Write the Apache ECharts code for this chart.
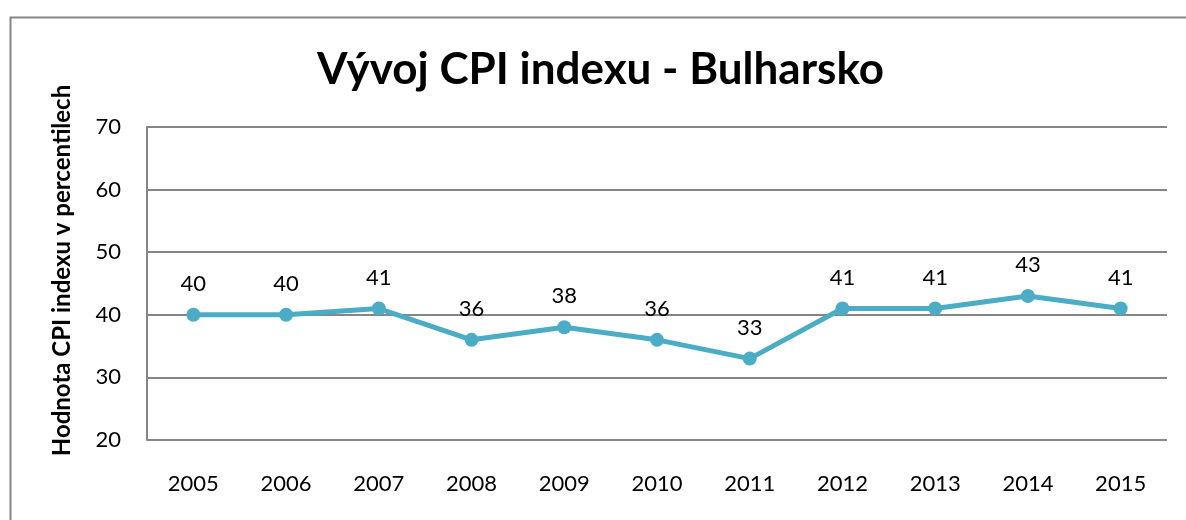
<!DOCTYPE html>
<html>
<head>
<meta charset="utf-8">
<script src="https://cdn.jsdelivr.net/npm/echarts@6/dist/echarts.min.js"></script>
<style>
  html, body { margin: 0; padding: 0; background: #fff; }
  #chart { width: 1186px; height: 520px; }
</style>
</head>
<body>
<div id="chart"></div>
<script>
// data
const years = ['2005', '2006', '2007', '2008', '2009', '2010', '2011', '2012', '2013', '2014', '2015']
const cpiValues = [40, 40, 41, 36, 38, 36, 33, 41, 41, 43, 41]
const chartTitle = 'Vývoj CPI indexu - Bulharsko'
const yAxisTitle = 'Hodnota CPI indexu v percentilech'

const chart = echarts.init(document.getElementById('chart'))
const font = 'Lato, "Open Sans", sans-serif'

chart.setOption({
  animation: false,
  textStyle: { fontFamily: font },
  // outer frame of the chart area, cut off at right and bottom
  graphic: [{
    type: 'rect',
    left: 8, top: 15,
    shape: { width: 1200, height: 520 },
    style: { fill: 'none', stroke: '#868686', lineWidth: 2 },
    silent: true
  }],
  title: {
    text: chartTitle,
    left: 312,
    top: 43,
    textStyle: { fontFamily: font, fontSize: 44, fontWeight: 'bold', color: '#000' }
  },
  grid: { left: 147, right: 19, top: 127, bottom: 80 },
  xAxis: {
    type: 'category',
    data: years,
    boundaryGap: true,
    axisLine: { show: false },
    axisTick: { show: false },
    axisLabel: { color: '#000', fontSize: 22, fontFamily: font, margin: 33 }
  },
  yAxis: {
    type: 'value',
    min: 20, max: 70, interval: 10,
    name: yAxisTitle,
    nameLocation: 'middle',
    nameGap: 73,
    nameRotate: 90,
    nameTextStyle: { color: '#000', fontSize: 24, fontWeight: 'bold', fontFamily: font, padding: [0, 0, 0, 26] },
    axisLine: { show: true, lineStyle: { color: '#868686', width: 2 } },
    axisTick: { show: false },
    axisLabel: { color: '#000', fontSize: 22, fontFamily: font, margin: 26 },
    splitLine: { lineStyle: { color: '#868686', width: 2 } }
  },
  series: [{
    type: 'line',
    data: cpiValues,
    symbol: 'circle',
    symbolSize: 14,
    lineStyle: { color: '#4BACC6', width: 5 },
    itemStyle: { color: '#4BACC6' },
    label: { show: true, position: 'top', distance: 13, color: '#000', fontSize: 22, fontFamily: font }
  }]
})
</script>
</body>
</html>
